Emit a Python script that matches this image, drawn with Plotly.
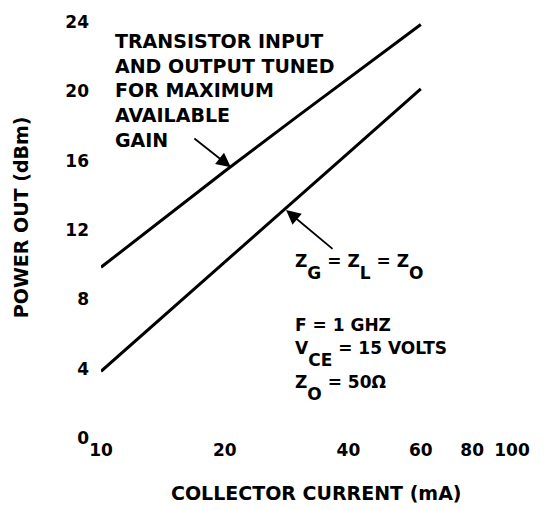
import math
import plotly.graph_objects as go

# ---- data ----
current_ma = [10, 12, 15, 20, 30, 40, 60]
pout_tuned = [9.85, 11.32, 13.11, 15.39, 18.54, 20.76, 23.86]      # tuned for max available gain
pout_50ohm = [3.85, 5.50, 7.54, 10.15, 13.84, 16.45, 20.14]        # ZG = ZL = ZO
x_ticks = [10, 20, 40, 60, 80, 100]
y_ticks = [0, 4, 8, 12, 16, 20, 24]

W, H = 546, 510
ML, MR, MT, MB = 101, 34, 16, 72
PW, PH = W - ML - MR, H - MT - MB

def px(x):
    return (x - ML) / PW

def py(y):
    return (H - MB - y) / PH

BOLD = "DejaVu Sans"
fig = go.Figure()
for ys in (pout_tuned, pout_50ohm):
    fig.add_trace(go.Scatter(x=current_ma, y=ys, mode="lines",
                             line=dict(color="black", width=3), showlegend=False,
                             hoverinfo="skip"))

tickfont = dict(family="DejaVu Sans", size=17, color="black", weight="bold")
fig.update_layout(
    width=W, height=H, margin=dict(l=ML, r=MR, t=MT, b=MB),
    paper_bgcolor="white", plot_bgcolor="white",
    xaxis=dict(type="log", range=[1, 2], tickvals=x_ticks,
               ticktext=["<b>%d</b>" % v for v in x_ticks],
               showgrid=False, zeroline=False, showline=False, ticks="",
               tickfont=tickfont),
    yaxis=dict(range=[0, 24], tickvals=y_ticks, ticktext=["<b>%d</b>" % v for v in y_ticks],
               showgrid=False, zeroline=False,
               showline=False, ticks="", tickfont=tickfont, ticklabelstandoff=11),
)

def txt(s, x, y, size=19, xanchor="left", yanchor="middle", angle=0):
    fig.add_annotation(text="<b>" + s + "</b>", xref="paper", yref="paper", x=px(x), y=py(y),
                       xanchor=xanchor, yanchor=yanchor, showarrow=False, align="left",
                       textangle=angle,
                       font=dict(family=BOLD, size=size, color="black"))

# axis titles
txt("COLLECTOR CURRENT (mA)", 316, 494, size=19, xanchor="center")
txt("POWER OUT (dBm)", 21, 214, size=19, xanchor="center", angle=-90)

# left note
txt("TRANSISTOR INPUT<br>AND OUTPUT TUNED<br>FOR MAXIMUM<br>AVAILABLE<br>GAIN", 113, 85, size=19)

# right notes
SUB = '<span style="baseline-shift:-12px">{}</span>'
txt("Z" + SUB.format("G") + " = Z" + SUB.format("L") + " = Z" + SUB.format("O"), 293, 265, size=17)
txt("F = 1 GHZ", 293, 323, size=17)
txt("V" + SUB.format("CE") + " = 15 VOLTS", 293, 353, size=17)
txt("Z" + SUB.format("O") + " = 50\u03a9", 293, 387, size=17)

# arrows
for hx, hy, ax, ay in [(20.7, 15.62, -38, -30), (28.2, 13.15, 48, 40)]:
    fig.add_annotation(x=math.log10(hx), y=hy, xref="x", yref="y", text="",
                       showarrow=True, arrowhead=2, arrowsize=1.6, arrowwidth=1.8,
                       arrowcolor="black", ax=ax, ay=ay, standoff=0)

fig.write_html("out.html")
